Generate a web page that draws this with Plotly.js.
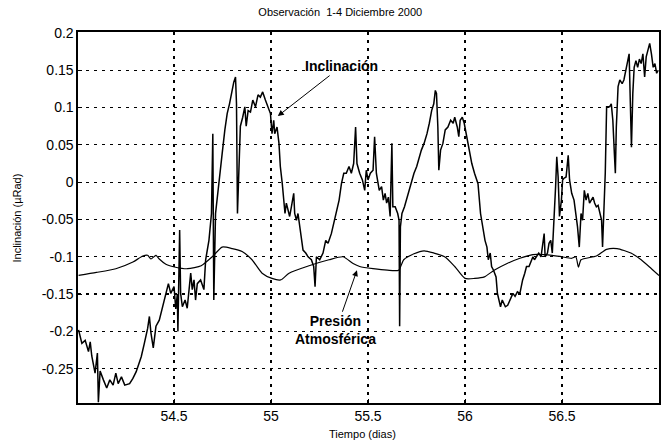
<!DOCTYPE html>
<html>
<head>
<meta charset="utf-8">
<script src="https://cdn.plot.ly/plotly-3.0.1.min.js"></script>
<style>html,body{margin:0;padding:0;background:#fff;}#chart{width:662px;height:444px;}</style>
</head>
<body>
<div id="chart"></div>
<script>
// Inclinación (µRad) vs Tiempo (días)
const incX = [54.008,54.025,54.042,54.059,54.068,54.076,54.093,54.105,54.110,54.119,54.136,54.153,54.169,54.186,54.200,54.212,54.229,54.246,54.271,54.288,54.305,54.331,54.347,54.364,54.373,54.381,54.393,54.407,54.424,54.441,54.458,54.471,54.483,54.500,
54.509,54.517,54.520,54.524,54.529,54.534,54.543,54.557,54.568,54.586,54.594,54.603,54.611,54.620,54.637,54.654,54.663,54.680,54.693,54.700,54.705,54.714,54.731,54.748,54.762,54.774,54.786,54.796,54.808,54.817,54.822,54.827,54.834,54.842,54.854,54.865,54.872,54.882,54.894,54.906,54.920,54.933,54.945,54.957,54.971,54.985,54.997,
55.005,55.014,55.019,55.031,55.041,55.048,55.058,55.065,55.072,55.079,55.088,55.096,55.105,55.117,55.122,55.131,55.139,55.148,55.156,55.165,55.179,55.191,55.208,55.220,55.227,55.234,55.251,55.268,55.282,55.294,55.311,55.323,55.337,55.351,55.363,55.375,55.388,55.402,55.414,55.426,55.436,55.443,55.457,55.471,55.483,55.491,55.500,
55.512,55.526,55.534,55.543,55.558,55.570,55.579,55.588,55.596,55.605,55.614,55.623,55.628,55.640,55.653,55.660,55.663,55.667,55.675,55.688,55.702,55.719,55.737,55.751,55.763,55.775,55.789,55.804,55.816,55.828,55.839,55.847,55.853,55.860,55.865,55.874,55.886,55.898,55.912,55.926,55.939,55.947,55.960,55.968,55.975,55.986,55.996,
56.009,56.021,56.035,56.049,56.067,56.080,56.092,56.103,56.113,56.120,56.130,56.137,56.147,56.153,56.160,56.167,56.175,56.183,56.192,56.200,56.208,56.220,56.233,56.247,56.258,56.270,56.283,56.297,56.308,56.317,56.330,56.342,56.350,56.358,56.367,56.380,56.392,56.403,56.408,56.413,56.425,56.433,56.442,56.450,56.458,56.467,56.473,56.480,56.487,56.497,
56.503,56.509,56.521,56.532,56.539,56.550,56.562,56.571,56.580,56.589,56.598,56.606,56.615,56.624,56.633,56.642,56.651,56.660,56.668,56.677,56.686,56.695,56.704,56.709,56.716,56.723,56.730,56.745,56.754,56.762,56.770,56.775,56.780,56.789,56.798,56.810,56.819,56.828,56.837,56.846,56.851,56.858,56.865,56.872,56.881,56.890,56.899,56.908,56.917,56.926,56.934,56.943,56.952,56.961,56.970,56.979,56.988,56.996];
const incY = [-0.198,-0.216,-0.212,-0.227,-0.214,-0.233,-0.256,-0.229,-0.295,-0.253,-0.265,-0.276,-0.265,-0.272,-0.256,-0.270,-0.261,-0.272,-0.270,-0.263,-0.254,-0.234,-0.216,-0.196,-0.180,-0.202,-0.222,-0.193,-0.185,-0.167,-0.149,-0.136,-0.149,-0.140,
-0.170,-0.150,-0.200,-0.149,-0.064,-0.149,-0.167,-0.158,-0.169,-0.122,-0.144,-0.131,-0.158,-0.136,-0.131,-0.144,-0.104,-0.078,-0.042,0.065,-0.158,-0.042,-0.006,0.038,0.070,0.092,0.105,0.119,0.134,0.141,0.105,-0.042,0.030,0.075,0.087,0.101,0.075,0.096,0.094,0.110,0.101,0.117,0.114,0.121,0.110,0.101,0.092,
0.065,0.083,0.065,0.074,0.052,0.021,-0.002,-0.024,-0.042,-0.028,-0.037,-0.046,-0.033,-0.015,-0.042,-0.051,-0.042,-0.060,-0.078,-0.091,-0.095,-0.100,-0.104,-0.113,-0.140,-0.100,-0.104,-0.095,-0.078,-0.082,-0.069,-0.055,-0.042,-0.024,-0.002,0.012,0.012,0.021,0.012,0.025,0.074,0.025,0.012,0.003,-0.011,0.016,0.003,
0.012,0.016,0.061,0.012,-0.011,-0.006,-0.024,-0.015,-0.028,-0.020,-0.046,0.052,-0.033,-0.033,-0.042,-0.051,-0.193,-0.060,-0.042,-0.033,-0.020,-0.006,0.012,0.021,0.034,0.043,0.052,0.065,0.079,0.096,0.105,0.123,0.119,0.074,0.016,0.043,0.052,0.070,0.074,0.083,0.079,0.087,0.074,0.061,0.083,0.087,0.079,
0.061,0.043,0.025,0.012,-0.002,-0.042,-0.060,-0.078,-0.087,-0.104,-0.095,-0.113,-0.118,-0.122,-0.127,-0.149,-0.158,-0.167,-0.158,-0.162,-0.167,-0.165,-0.158,-0.149,-0.153,-0.147,-0.149,-0.131,-0.122,-0.113,-0.113,-0.104,-0.100,-0.104,-0.100,-0.095,-0.100,-0.082,-0.069,-0.100,-0.095,-0.082,-0.078,-0.095,-0.060,-0.006,0.034,0.007,-0.046,-0.024,
0.003,0.005,0.007,0.036,0.003,-0.015,-0.024,-0.042,-0.060,-0.087,-0.042,-0.051,-0.011,-0.024,-0.015,-0.028,-0.024,-0.020,-0.028,-0.033,-0.031,-0.042,-0.051,-0.087,-0.042,0.012,0.101,0.101,0.105,0.083,0.038,0.012,0.074,0.128,0.137,0.132,0.137,0.150,0.163,0.172,0.119,0.047,0.119,0.154,0.163,0.154,0.165,0.159,0.172,0.141,0.168,0.177,0.186,0.172,0.154,0.159,0.146,0.150];

// Presión atmosférica (scaled)
const presX = [54.008,54.10,54.20,54.288,54.339,54.364,54.381,54.407,54.424,54.458,54.508,54.57,54.64,54.697,54.748,54.80,54.851,54.902,54.954,55.005,55.05,55.093,55.196,55.299,55.371,55.423,55.457,55.526,55.60,55.658,55.684,55.737,55.789,55.84,55.895,55.947,56.0,56.05,56.1,56.15,56.217,56.283,56.35,56.45,56.5,56.55,56.571,56.585,56.598,56.677,56.73,56.784,56.855,56.908,56.961,57.0];
const presY = [-0.125,-0.121,-0.116,-0.107,-0.099,-0.098,-0.103,-0.098,-0.103,-0.110,-0.114,-0.116,-0.112,-0.100,-0.087,-0.089,-0.093,-0.104,-0.122,-0.129,-0.131,-0.122,-0.112,-0.104,-0.100,-0.109,-0.113,-0.116,-0.118,-0.118,-0.104,-0.096,-0.092,-0.095,-0.100,-0.113,-0.129,-0.129,-0.127,-0.118,-0.109,-0.102,-0.097,-0.098,-0.100,-0.102,-0.100,-0.114,-0.104,-0.099,-0.090,-0.089,-0.095,-0.104,-0.116,-0.125];

const xTicks = [54.5,55,55.5,56,56.5,57];
const xTickText = ['54.5','55','55.5','56','56.5','57'];
const yTicks = [-0.25,-0.2,-0.15,-0.1,-0.05,0,0.05,0.1,0.15,0.2];
const yTickText = ['-0.25','-0.2','-0.15','-0.1','-0.05','0','0.05','0.1','0.15','0.2'];

const FONT = 'Liberation Sans, Arial, sans-serif';

const traces = [
  {x: incX, y: incY, type: 'scatter', mode: 'lines', name: 'Inclinación',
   line: {color: '#000', width: 1.5}, hoverinfo: 'skip'},
  {x: presX, y: presY, type: 'scatter', mode: 'lines', name: 'Presión Atmosférica',
   line: {color: '#000', width: 1.2, shape: 'spline', smoothing: 0.6}, hoverinfo: 'skip'}
];

const axisCommon = {
  showline: true, linecolor: '#000', linewidth: 1.6, mirror: true,
  showgrid: true, gridcolor: '#000', gridwidth: 1.2, griddash: '3px,5px',
  zeroline: false, ticks: 'inside', ticklen: 4, tickcolor: '#000',
  tickfont: {family: FONT, size: 14, color: '#000'}, tickmode: 'array'
};

const layout = {
  width: 662, height: 444,
  margin: {l: 78, r: 3, t: 32, b: 41},
  paper_bgcolor: '#fff', plot_bgcolor: '#fff',
  showlegend: false,
  title: {text: 'Observación  1-4 Diciembre 2000', x: 0.514, xref: 'container', xanchor: 'center',
          y: 0.973, yref: 'container', yanchor: 'middle',
          font: {family: FONT, size: 11, color: '#000'}},
  xaxis: Object.assign({}, axisCommon, {range: [54.005, 57.0], tickvals: xTicks, ticktext: xTickText}),
  yaxis: Object.assign({}, axisCommon, {range: [-0.296, 0.2013], tickvals: yTicks, ticktext: yTickText}),
  annotations: [
    {text: 'Tiempo (dias)', xref: 'paper', yref: 'paper', x: 0.49, y: -0.083, xanchor: 'center', yanchor: 'middle',
     showarrow: false, font: {family: FONT, size: 11, color: '#000'}},
    {text: 'Inclinación (µRad)', xref: 'paper', yref: 'paper', x: -0.105, y: 0.5, xanchor: 'center', yanchor: 'middle',
     textangle: -90, showarrow: false, font: {family: FONT, size: 11, color: '#000'}},
    {text: '<b>Inclinación</b>', xref: 'x', yref: 'y', x: 55.035, y: 0.0886,
     ax: 64, ay: -50, showarrow: true,
     arrowhead: 2, arrowsize: 1.2, arrowwidth: 1, arrowcolor: '#000', standoff: 0,
     font: {family: FONT, size: 14, color: '#000'}},
    {text: '<b>Presión</b><br><b>Atmosférica</b>', xref: 'x', yref: 'y', x: 55.443, y: -0.118,
     ax: -21, ay: 60, showarrow: true,
     arrowhead: 2, arrowsize: 1.2, arrowwidth: 1, arrowcolor: '#000', standoff: 0,
     font: {family: FONT, size: 14, color: '#000'}}
  ]
};

Plotly.newPlot('chart', traces, layout, {staticPlot: true, displayModeBar: false});
</script>
</body>
</html>
